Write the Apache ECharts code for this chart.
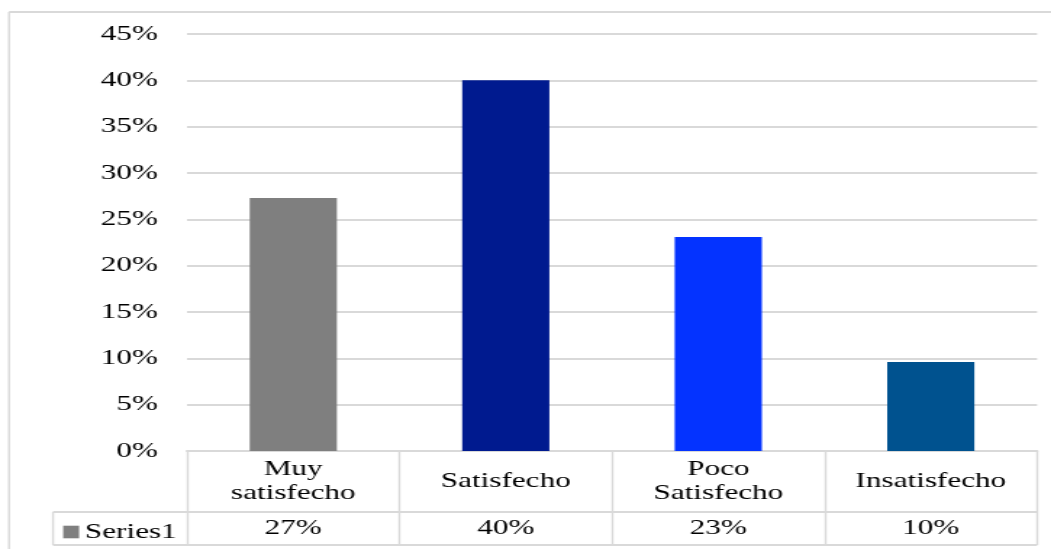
<!DOCTYPE html>
<html>
<head>
<meta charset="utf-8">
<script src="https://cdn.jsdelivr.net/npm/echarts@6/dist/echarts.min.js"></script>
<style>
  html, body { margin: 0; padding: 0; background: #fff; overflow: hidden; }
  #wrap { width: 1051px; height: 549px; overflow: hidden; }
  /* The chart is laid out on a narrower canvas and widened horizontally,
     giving the wide serif lettering of the original spreadsheet export. */
  #chart { width: 725px; height: 549px; transform: scaleX(1.4497); transform-origin: 0 0; }
</style>
</head>
<body>
<div id="wrap"><div id="chart"></div></div>
<script>
// ---- data ----
const categories = ['Muy\nsatisfecho', 'Satisfecho', 'Poco\nSatisfecho', 'Insatisfecho'];
const values = [0.273, 0.400, 0.231, 0.096];
const barColors = ['#7f7f7f', '#001a8f', '#0433ff', '#00528f'];
const seriesName = 'Series1';
const yMin = 0, yMax = 0.45, yStep = 0.05;

// ---- layout (chart-space units; x is widened by SX on screen) ----
const SX = 1051 / 725;
const W = 725, H = 549;
const gridLeft = 187 / SX, gridRight = W - 1037 / SX;
const gridTop = 34, gridBottom = 98;
const axisY = H - gridBottom;          // 451: table top
const headRow = 61, valueRow = 33;     // table row heights
const cellLeft = 53 / SX;              // left edge of the series-name cell
const lineColor = '#d9d9d9';
const font = 'Liberation Serif, Times New Roman, serif';
const fontSize = 21.5;
const pct = v => Math.round(v * 100) + '%';

const chart = echarts.init(document.getElementById('chart'), null, { renderer: 'canvas' });

const option = {
  animation: false,
  backgroundColor: '#fff',
  grid: { left: gridLeft, right: gridRight, top: gridTop, bottom: gridBottom, containLabel: false },
  legend: {
    data: [seriesName],
    left: cellLeft + 2,
    top: axisY + headRow + 4,
    icon: 'rect',
    itemWidth: 11,
    itemHeight: 12.6,
    itemGap: 0,
    textStyle: { fontFamily: font, fontSize: fontSize, color: '#000', padding: [0, 0, 0, -1] },
    selectedMode: false
  },
  xAxis: [
    {
      type: 'category',
      data: categories,
      position: 'bottom',
      axisLine: { show: true, lineStyle: { color: lineColor, width: 2 } },
      axisTick: { show: true, interval: 0, length: headRow + valueRow, lineStyle: { color: lineColor, width: 1.4 } },
      axisLabel: {
        interval: 0,
        margin: headRow / 2,
        verticalAlign: 'middle',
        fontFamily: font, fontSize: fontSize, lineHeight: 24, color: '#000', align: 'center'
      }
    },
    {
      type: 'category',
      data: values.map(pct),
      position: 'bottom',
      offset: headRow,
      axisLine: { show: false },
      axisTick: { show: false },
      axisLabel: {
        interval: 0,
        margin: valueRow / 2,
        verticalAlign: 'middle',
        fontFamily: font, fontSize: fontSize, color: '#000'
      }
    }
  ],
  yAxis: {
    type: 'value',
    min: yMin, max: yMax, interval: yStep,
    axisLine: { show: false },
    axisTick: { show: false },
    splitLine: { show: true, lineStyle: { color: lineColor, width: 2 } },
    axisLabel: {
      margin: 20,
      formatter: v => pct(v),
      fontFamily: font, fontSize: fontSize, color: '#000'
    }
  },
  series: [{
    name: seriesName,
    type: 'bar',
    xAxisIndex: 0,
    barWidth: '41%',
    itemStyle: { color: barColors[0] },
    data: values.map((v, i) => ({ value: v, itemStyle: { color: barColors[i] } }))
  }],
  graphic: [
    // outer chart-area border (top and left edges visible)
    { type: 'line', shape: { x1: 9 / SX, y1: 12, x2: W + 10, y2: 12 }, style: { stroke: lineColor, lineWidth: 2 } },
    { type: 'line', shape: { x1: 9 / SX, y1: 12, x2: 9 / SX, y2: H + 10 }, style: { stroke: lineColor, lineWidth: 1.4 } },
    // data-table rows
    { type: 'line', shape: { x1: cellLeft, y1: axisY + headRow, x2: W - gridRight, y2: axisY + headRow }, style: { stroke: lineColor, lineWidth: 2 } },
    { type: 'line', shape: { x1: cellLeft, y1: axisY + headRow + valueRow, x2: W - gridRight, y2: axisY + headRow + valueRow }, style: { stroke: lineColor, lineWidth: 2 } },
    { type: 'line', shape: { x1: cellLeft, y1: axisY + headRow, x2: cellLeft, y2: axisY + headRow + valueRow }, style: { stroke: lineColor, lineWidth: 1.4 } }
  ]
};

chart.setOption(option);
</script>
</body>
</html>
